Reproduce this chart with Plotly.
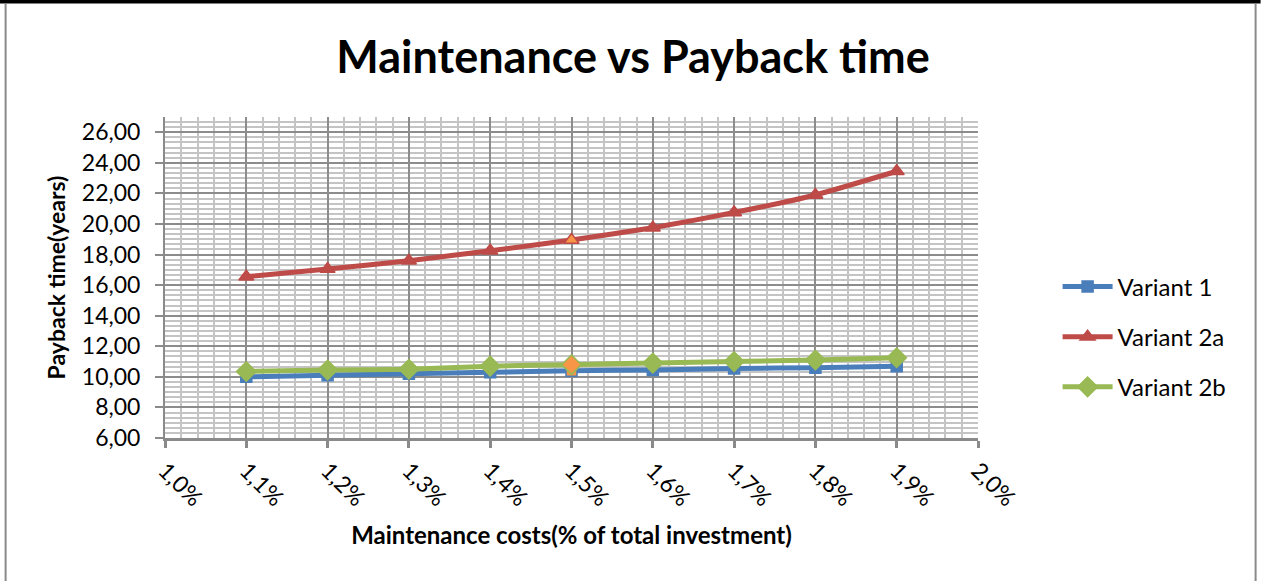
import plotly.graph_objects as go

# Maintenance cost share (% of total investment) on the x axis
maintenance_pct = [1.1, 1.2, 1.3, 1.4, 1.5, 1.6, 1.7, 1.8, 1.9]

# Payback time in years for each variant
variant_1 = [10.00, 10.10, 10.20, 10.30, 10.40, 10.45, 10.55, 10.60, 10.70]
variant_2a = [16.55, 17.05, 17.60, 18.25, 18.95, 19.75, 20.75, 21.90, 23.45]
variant_2b = [10.35, 10.45, 10.50, 10.70, 10.80, 10.90, 11.00, 11.10, 11.25]

series_names = ["Variant 1", "Variant 2a", "Variant 2b"]
series_values = [variant_1, variant_2a, variant_2b]
series_colors = ["#4a7ebb", "#be4b48", "#98b954"]
series_symbols = ["square", "triangle-up", "diamond"]
series_sizes = [11, 13, 15]

highlight_color = "#f79646"
highlight_x = 1.5

FONT = "Lato, 'Open Sans', sans-serif"

fig = go.Figure()

for name, vals, col, sym, size in zip(series_names, series_values, series_colors,
                                      series_symbols, series_sizes):
    fills = [highlight_color if abs(x - highlight_x) < 1e-9 else col for x in maintenance_pct]
    fig.add_trace(go.Scatter(
        x=maintenance_pct, y=vals, name=name, legendgroup=name,
        mode="lines+markers",
        line=dict(color=col, width=5, shape="spline", smoothing=0.5),
        marker=dict(symbol=sym, size=size, color=fills,
                    line=dict(color=col, width=1.5)),
    ))

# plot-area geometry in pixels (used for the outer frame shapes)
W, H = 1261, 581
L, R, T, B = 165.4, 282.6, 117.4, 143
PW, PH = W - L - R, H - T - B


def px_x(p):
    return (p - L) / PW


def px_y(p):
    return (H - B - p) / PH


shapes = [
    # black band along the top edge
    dict(type="rect", xref="paper", yref="paper",
         x0=px_x(0), x1=px_x(W), y0=px_y(4), y1=px_y(0),
         fillcolor="black", line=dict(width=0), layer="above"),
    # grey chart-area border, left and right sides
    dict(type="line", xref="paper", yref="paper",
         x0=px_x(6), x1=px_x(6), y0=px_y(4), y1=px_y(H),
         line=dict(color="#8a8a8a", width=2)),
    dict(type="line", xref="paper", yref="paper",
         x0=px_x(1256), x1=px_x(1256), y0=px_y(4), y1=px_y(H),
         line=dict(color="#8a8a8a", width=2)),
]

fig.update_layout(
    width=W, height=H,
    margin=dict(l=L, r=R, t=T, b=B, autoexpand=False),
    paper_bgcolor="white", plot_bgcolor="white",
    separators=",.",
    font=dict(family=FONT, color="black", size=23),
    title=dict(text="<b>Maintenance vs Payback time</b>",
               x=(633 / W), xanchor="center", y=1 - 57 / H, yanchor="middle",
               font=dict(family=FONT, size=45, color="black")),
    shapes=shapes,
    legend=dict(x=px_x(1058), xanchor="left", y=px_y(337), yanchor="middle",
                font=dict(family=FONT, size=24, color="black"),
                itemwidth=50,
                tracegroupgap=16, bgcolor="rgba(0,0,0,0)"),
)

fig.update_xaxes(
    range=[1.0, 2.0], dtick=0.1, tick0=1.0,
    tickformat=".1f", ticksuffix="%", tickangle=45,
    tickfont=dict(family=FONT, size=23),
    ticks="outside", ticklen=7, tickwidth=3, tickcolor="#8a8a8a",
    ticklabelstandoff=0,
    showline=True, linecolor="#8a8a8a", linewidth=3,
    showgrid=True, gridcolor="#8c8c8c", gridwidth=2,
    minor=dict(dtick=0.02, showgrid=True, gridcolor="#c4c4c4", gridwidth=2),
    zeroline=False,
    title=dict(text="<b>Maintenance costs(% of total investment)</b>",
               font=dict(family=FONT, size=24), standoff=17),
)

fig.update_yaxes(
    range=[6, 27], dtick=2, tick0=6, tickformat=".2f",
    tickfont=dict(family=FONT, size=23),
    ticks="outside", ticklen=8, tickwidth=2, tickcolor="#8a8a8a",
    ticklabelstandoff=10,
    showline=True, linecolor="#8a8a8a", linewidth=2,
    showgrid=True, gridcolor="#8c8c8c", gridwidth=2,
    minor=dict(dtick=2 / 6, showgrid=True, gridcolor="#c4c4c4", gridwidth=2),
    zeroline=False,
    title=dict(text="<b>Payback time(years)</b>",
               font=dict(family=FONT, size=23), standoff=10),
)

fig.write_html("out.html")
